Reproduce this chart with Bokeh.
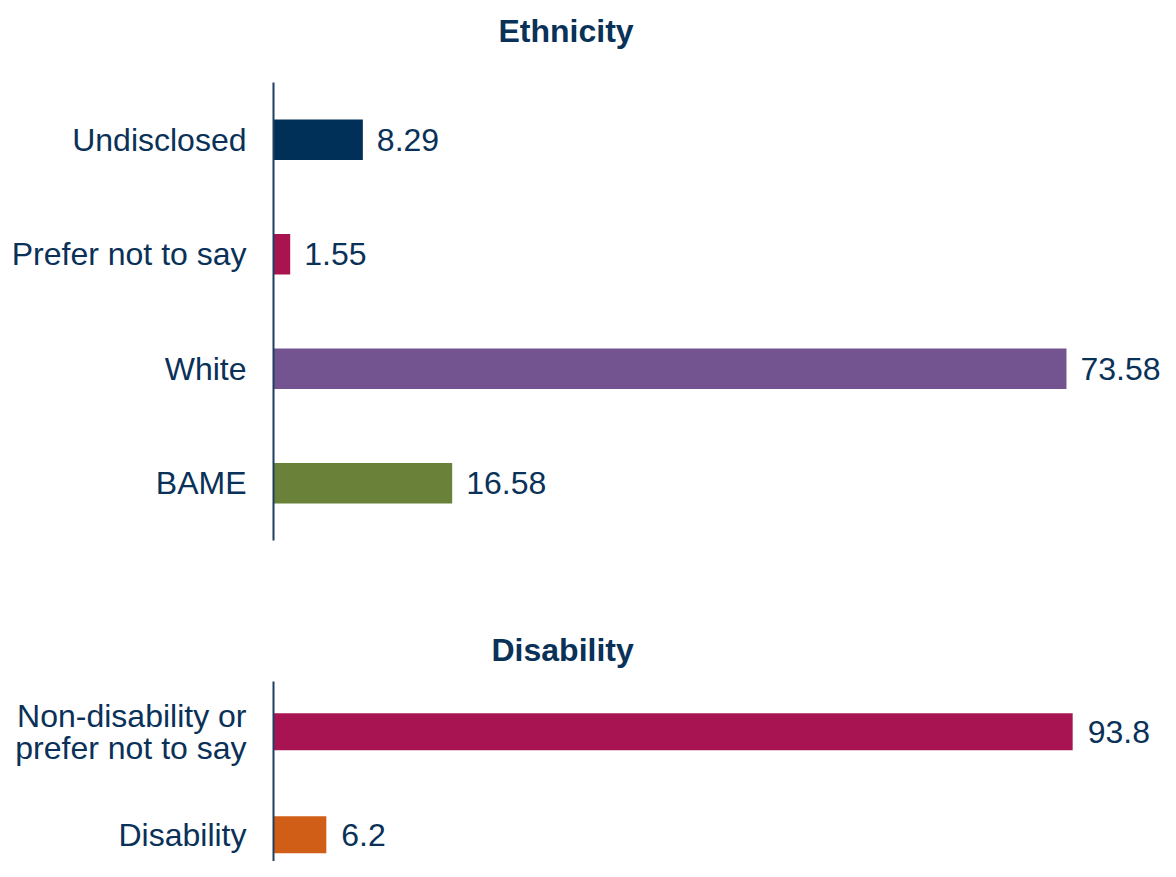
from bokeh.plotting import figure
from bokeh.layouts import column
from bokeh.models import FactorRange, Range1d, FixedTicker, Title
from bokeh.core.properties import value
from bokeh.embed import file_html
from bokeh.resources import INLINE

# ---- data ----
eth_categories = ["Undisclosed", "Prefer not to say", "White", "BAME"]
eth_values = [8.29, 1.55, 73.58, 16.58]
eth_colors = ["#003057", "#A8144F", "#735491", "#6A8139"]

dis_categories = ["Non-disability or\nprefer not to say", "Disability"]
dis_values = [93.8, 6.2]
dis_colors = ["#A81451", "#D05E16"]

FONT = "Liberation Sans"
TEXT_COLOR = "#0A3158"
AXIS_COLOR = "#1F3F5F"
W = 1160
LEFT = 273
FRAME_W = W - LEFT


def style(p):
    p.outline_line_color = None
    p.xgrid.visible = False
    p.ygrid.visible = False
    ax = p.yaxis[0]
    ax.axis_line_color = AXIS_COLOR
    ax.axis_line_width = 2
    ax.major_tick_line_color = None
    ax.minor_tick_line_color = None
    ax.major_tick_out = 0
    ax.major_tick_in = 0
    ax.major_label_standoff = 27
    ax.major_label_text_font = FONT
    ax.major_label_text_font_size = "32px"
    ax.major_label_text_color = TEXT_COLOR
    ax.major_label_text_line_height = 0.9
    p.background_fill_color = "white"
    p.border_fill_color = "white"


def title(text, offset, standoff):
    return Title(text=text, align="left", offset=offset, text_font=FONT,
                 text_font_size="32px", text_font_style="bold", text_color=TEXT_COLOR,
                 standoff=standoff)


# ---- Ethnicity ----
eth_factors = list(reversed(eth_categories))
p1 = figure(width=W, height=560, output_backend="svg", toolbar_location=None,
            x_axis_location=None, y_range=FactorRange(factors=eth_factors, range_padding=0),
            x_range=Range1d(0, FRAME_W / 10.777),
            min_border_left=LEFT, min_border_right=0, min_border_top=82, min_border_bottom=20,
            title=None)
p1.add_layout(Title(text=" ", text_font_size="10px", standoff=21), "above")
p1.add_layout(title("Ethnicity", 225, 0), "above")
p1.hbar(y=eth_categories, right=eth_values, left=0, height=0.354, color=eth_colors, line_color=None)
p1.text(x=eth_values, y=eth_categories, text=[f"{v:g}" for v in eth_values], x_offset=14,
        text_baseline="middle", text_align="left", text_font=value(FONT),
        text_font_size="32px", text_color=TEXT_COLOR)
style(p1)

# ---- Disability ----
dis_pos = list(range(len(dis_categories) - 1, -1, -1))  # top item highest
p2 = figure(width=W, height=301, output_backend="svg", toolbar_location=None,
            x_axis_location=None, y_range=Range1d(-0.259, 1.488),
            x_range=Range1d(0, FRAME_W / 8.52),
            min_border_left=LEFT, min_border_right=0, min_border_top=121, min_border_bottom=0,
            title=None)
p2.add_layout(title("Disability", 218, 27), "above")
p2.hbar(y=dis_pos, right=dis_values, left=0, height=0.36, color=dis_colors, line_color=None)
p2.text(x=dis_values, y=dis_pos, text=[f"{v:g}" for v in dis_values], x_offset=15,
        text_baseline="middle", text_align="left", text_font=value(FONT),
        text_font_size="32px", text_color=TEXT_COLOR)
style(p2)
p2.yaxis[0].ticker = FixedTicker(ticks=dis_pos)
p2.yaxis[0].major_label_overrides = {pos: lab for pos, lab in zip(dis_pos, dis_categories)}

layout = column(p1, p2, spacing=0)
open("out.html", "w").write(file_html(layout, INLINE))
